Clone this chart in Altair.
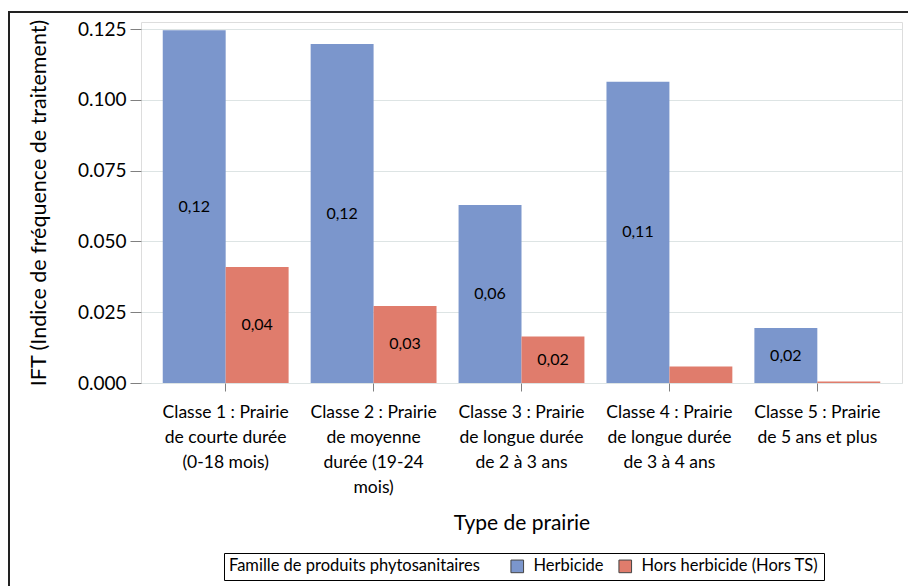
import altair as alt
import pandas as pd

# Grassland classes (axis labels are split on "|")
classes = [
    "Classe 1 : Prairie|de courte durée|(0-18 mois)",
    "Classe 2 : Prairie|de moyenne|durée (19-24|mois)",
    "Classe 3 : Prairie|de longue durée|de 2 à 3 ans",
    "Classe 4 : Prairie|de longue durée|de 3 à 4 ans",
    "Classe 5 : Prairie|de 5 ans et plus",
]
familles = ["Herbicide", "Hors herbicide (Hors TS)"]
ift_herbicide = [0.1246, 0.1197, 0.0629, 0.1064, 0.0194]
ift_hors_herbicide = [0.0410, 0.0272, 0.0164, 0.0058, 0.0005]
y_ticks = [0.0, 0.025, 0.05, 0.075, 0.1, 0.125]

rows = []
for c, h, o in zip(classes, ift_herbicide, ift_hors_herbicide):
    rows.append({"classe": c, "famille": familles[0], "ift": h})
    rows.append({"classe": c, "famille": familles[1], "ift": o})
df = pd.DataFrame(rows)

FONT = "Lato"
colors = ["#7B96CC", "#E07C6C"]

x_enc = alt.X(
    "classe:N",
    sort=classes,
    scale=alt.Scale(paddingInner=0.149, paddingOuter=0.147),
    axis=alt.Axis(
        title="Type de prairie",
        labelExpr="split(datum.label, '|')",
        labelAngle=0,
        labelFontSize=17.5,
        labelLineHeight=25,
        labelPadding=12,
        labelColor="#000000",
        labelFont=FONT,
        tickColor="#808080",
        tickSize=8,
        domain=False,
        titleFontSize=21,
        titleFont=FONT,
        titleFontWeight="normal",
        titleColor="#000000",
        titlePadding=17,
    ),
)
xoff_enc = alt.XOffset("famille:N", sort=familles, scale=alt.Scale(paddingInner=0, paddingOuter=0))

y_scale = alt.Scale(domain=[0, 0.1275], nice=False, zero=True)

bars = alt.Chart(df).mark_bar(stroke=None).encode(
    x=x_enc,
    xOffset=xoff_enc,
    y=alt.Y(
        "ift:Q",
        scale=y_scale,
        axis=alt.Axis(
            title="IFT (Indice de fréquence de traitement)",
            values=y_ticks,
            format=".3f",
            labelFontSize=19,
            labelFont=FONT,
            labelColor="#000000",
            labelPadding=4,
            tickColor="#808080",
            tickSize=11,
            domain=False,
            grid=True,
            gridColor="#DDE4E4",
            titleFontSize=21.5,
            titleFont=FONT,
            titleFontWeight="normal",
            titleColor="#000000",
            titlePadding=27,
        ),
    ),
    color=alt.Color(
        "famille:N",
        sort=familles,
        scale=alt.Scale(domain=familles, range=colors),
        legend=alt.Legend(
            title="Famille de produits phytosanitaires",
            orient="none",
            legendX=83,
            legendY=531,
            direction="horizontal",
            titleOrient="left",
            titleFontSize=16.5,
            titleFont=FONT,
            titleFontWeight="normal",
            titleColor="#000000",
            titleLimit=400,
            titlePadding=29,
            labelFontSize=16.5,
            labelFont=FONT,
            labelColor="#000000",
            labelLimit=300,
            labelOffset=8,
            symbolType="square",
            symbolSize=160,
            symbolStrokeColor="#444444",
            symbolStrokeWidth=1,
            symbolOpacity=1,
            columnPadding=12,
            strokeColor="#000000",
            fillColor="#FFFFFF",
            padding=5,
        ),
    ),
)

labels = alt.Chart(df).transform_filter(
    alt.datum.ift >= 0.01
).transform_calculate(
    mid="datum.ift / 2",
    txt="replace(format(datum.ift, '.2f'), '.', ',')",
).mark_text(font=FONT, fontSize=16, color="#000000", baseline="middle").encode(
    x=alt.X("classe:N", sort=classes),
    xOffset=alt.XOffset("famille:N", sort=familles),
    y=alt.Y("mid:Q", scale=y_scale),
    text="txt:N",
)

# outer frame of the graphic
frame = alt.Chart(pd.DataFrame({"k": [0]})).mark_rect(
    fill=None, stroke="#222222", strokeWidth=2
).encode(
    x=alt.value(-132), x2=alt.value(900), y=alt.value(-10), y2=alt.value(700)
)

chart = alt.layer(bars, labels, frame).properties(
    width=761,
    height=361,
    autosize=alt.AutoSizeParams(type="none"),
    padding={"left": 141, "top": 22, "right": 6, "bottom": 203},
).configure_view(
    stroke="#000000", strokeWidth=1
).configure(background="#FFFFFF")

chart.save("out.html", embed_options={"renderer": "svg", "actions": False})
